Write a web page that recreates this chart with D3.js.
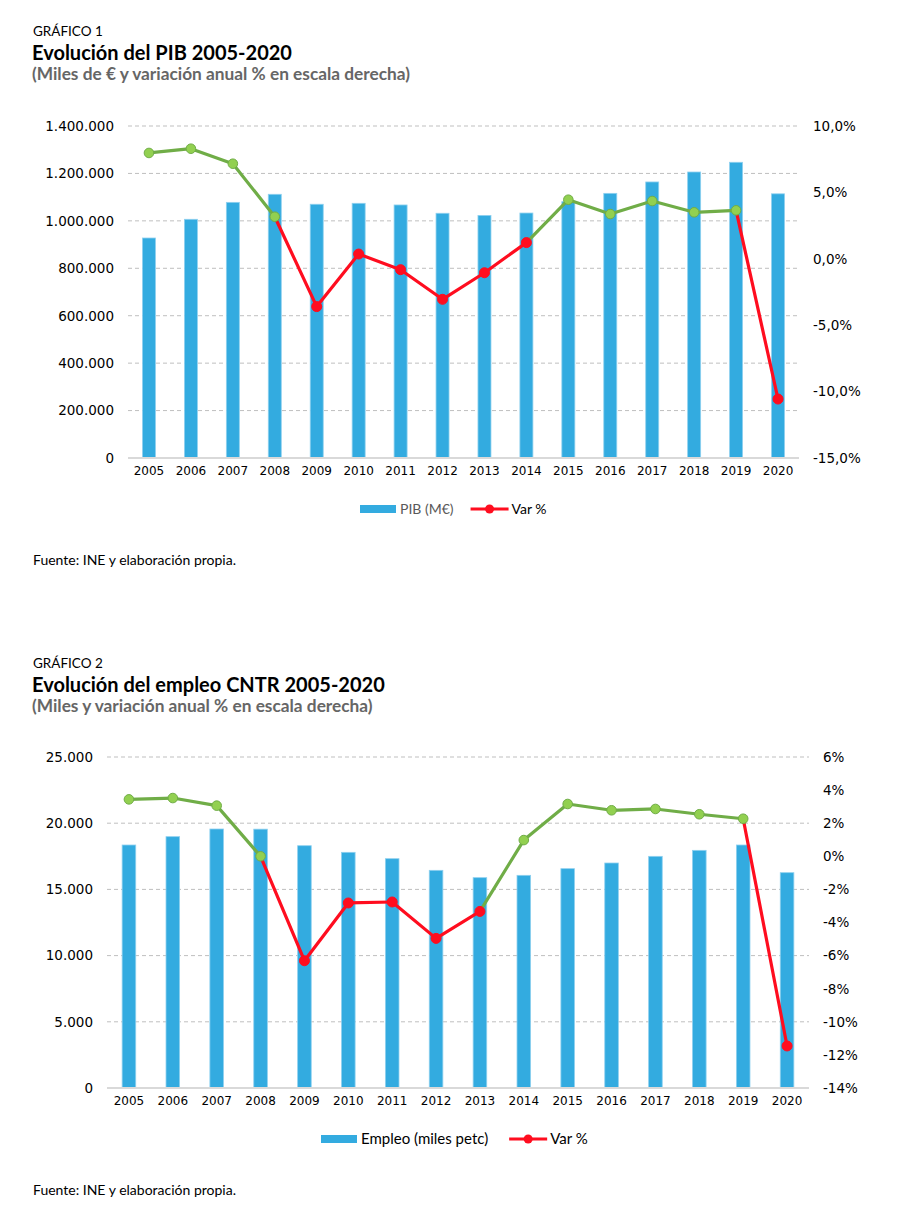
<!DOCTYPE html>
<html>
<head>
<meta charset="utf-8">
<script src="https://cdn.jsdelivr.net/npm/d3@7"></script>
<style>
  body { margin: 0; background: #fff; }
  .tick-label { font-family: "DejaVu Sans", sans-serif; fill: #000; }
  .caption { font-family: Lato, sans-serif; }
</style>
</head>
<body>
<div id="wrapper"></div>
<script>
// Years shared by both charts
const years = ["2005", "2006", "2007", "2008", "2009", "2010", "2011", "2012",
  "2013", "2014", "2015", "2016", "2017", "2018", "2019", "2020"];

// Gráfico 1: PIB (M€) and annual variation %
const pibValues = [927700, 1006600, 1078000, 1112000, 1070000, 1074000, 1067000, 1032000,
  1023000, 1033000, 1081000, 1116000, 1164000, 1206000, 1247000, 1114000];
const pibVar = [7.97, 8.29, 7.16, 3.17, -3.6, 0.36, -0.82, -3.05,
  -1.05, 1.22, 4.45, 3.37, 4.35, 3.5, 3.65, -10.56];
// phase of each point: "alza" drawn green, "baja" drawn red
const pibPhase = ["alza", "alza", "alza", "alza", "baja", "baja", "baja", "baja",
  "baja", "baja", "alza", "alza", "alza", "alza", "alza", "baja"];
const pibLeftTicks = [0, 200000, 400000, 600000, 800000, 1000000, 1200000, 1400000];
const pibRightTicks = [-15, -10, -5, 0, 5, 10];

// Gráfico 2: Empleo (miles petc) and annual variation %
const empleoValues = [18353, 18983, 19562, 19550, 18300, 17800, 17320, 16440,
  15886, 16063, 16566, 16994, 17497, 17950, 18353, 16263];
const empleoVar = [3.44, 3.52, 3.06, 0.0, -6.31, -2.82, -2.76, -4.96,
  -3.33, 0.98, 3.16, 2.78, 2.86, 2.54, 2.27, -11.46];
const empleoPhase = ["alza", "alza", "alza", "alza", "baja", "baja", "baja", "baja",
  "baja", "alza", "alza", "alza", "alza", "alza", "alza", "baja"];
const empleoLeftTicks = [0, 5000, 10000, 15000, 20000, 25000];
const empleoRightTicks = [-14, -12, -10, -8, -6, -4, -2, 0, 2, 4, 6];

const es = d3.formatLocale({ decimal: ",", thousands: ".", grouping: [3], currency: ["", "€"], minus: "-" });
const fmtThousands = es.format(",.0f");
const fmtPct1 = v => es.format(".1f")(v) + "%";
const fmtPct0 = v => es.format(".0f")(v) + "%";

const BAR = "#33abe0";
const phaseColor = { alza: "#70ad47", baja: "#ff0d1f" };
const markerFill = { alza: "#92d050", baja: "#ff0d1f" };

const svg = d3.select("#wrapper").append("svg")
  .attr("width", 920)
  .attr("height", 1218);

function drawChart(c) {
  const g = svg.append("g");

  // headings
  g.append("text").attr("class", "caption").attr("x", 33).attr("y", c.top + 36)
    .style("font-size", "13.5px").text(c.label);
  g.append("text").attr("class", "caption").attr("x", 32).attr("y", c.top + 60)
    .style("font-size", "20px").style("font-weight", "bold").text(c.title);
  g.append("text").attr("class", "caption").attr("x", 32).attr("y", c.top + 80)
    .style("font-size", "17.3px").style("font-weight", "bold").style("fill", "#666")
    .text(c.subtitle);

  const x = d3.scaleBand().domain(years).range([c.x0, c.x1]);
  const yL = d3.scaleLinear().domain(c.leftDomain).range([c.y0, c.y1]);
  const yR = d3.scaleLinear().domain(c.rightDomain).range([c.y0, c.y1]);
  const cx = d => x(d) + x.bandwidth() / 2;

  // gridlines
  g.selectAll(".grid").data(c.leftTicks.filter(t => t > 0)).enter().append("line")
    .attr("x1", c.x0).attr("x2", c.x1)
    .attr("y1", d => yL(d)).attr("y2", d => yL(d))
    .attr("stroke", "#bfbfbf").attr("stroke-width", 1).attr("stroke-dasharray", "4,3");

  // bars
  const bw = x.bandwidth() * 0.31;
  g.selectAll(".bar").data(c.values).enter().append("rect")
    .attr("x", (d, i) => cx(years[i]) - bw / 2)
    .attr("y", d => yL(d))
    .attr("width", bw)
    .attr("height", d => yL(0) - yL(d))
    .attr("fill", BAR)
    .attr("stroke", "#8fd0ef").attr("stroke-width", 0.8);

  // baseline
  g.append("line").attr("x1", c.x0).attr("x2", c.x1)
    .attr("y1", yL(0)).attr("y2", yL(0))
    .attr("stroke", "#d9d9d9").attr("stroke-width", 2);

  // left axis
  const left = g.append("g").attr("transform", `translate(${c.leftLabelX},0)`)
    .call(d3.axisLeft(yL).tickValues(c.leftTicks).tickFormat(fmtThousands).tickSize(0).tickPadding(0));
  left.select(".domain").remove();
  left.selectAll("text").attr("class", "tick-label").style("font-size", "13.5px");

  // right axis
  const right = g.append("g").attr("transform", `translate(${c.rightLabelX},0)`)
    .call(d3.axisRight(yR).tickValues(c.rightTicks).tickFormat(c.rightFormat).tickSize(0).tickPadding(0));
  right.select(".domain").remove();
  right.selectAll("text").attr("class", "tick-label").style("font-size", "13.5px");

  // x axis
  const bottom = g.append("g").attr("transform", `translate(0,${c.y0 + 8})`)
    .call(d3.axisBottom(x).tickSize(0).tickPadding(0));
  bottom.select(".domain").remove();
  bottom.selectAll("text").attr("class", "tick-label").style("font-size", "12px").attr("dy", "0.75em");

  // variation line, each segment coloured by its end point
  const line = d3.line().x(d => cx(d.year)).y(d => yR(d.v));
  const pts = c.varValues.map((v, i) => ({ year: years[i], v: v, phase: c.phases[i] }));
  for (let i = 1; i < pts.length; i++) {
    g.append("path").attr("d", line([pts[i - 1], pts[i]]))
      .attr("fill", "none").attr("stroke", phaseColor[pts[i].phase])
      .attr("stroke-width", 3.2).attr("stroke-linecap", "round");
  }
  g.selectAll(".pt").data(pts).enter().append("circle")
    .attr("cx", d => cx(d.year)).attr("cy", d => yR(d.v))
    .attr("r", d => d.phase === "alza" ? 4.8 : 5)
    .attr("fill", d => markerFill[d.phase])
    .attr("stroke", d => phaseColor[d.phase]).attr("stroke-width", 1);

  // legend
  const lg = g.append("g").attr("transform", `translate(${c.legendX},${c.legendY})`);
  lg.append("rect").attr("x", 0).attr("y", -4).attr("width", 36).attr("height", 8).attr("fill", BAR);
  const t1 = lg.append("text").attr("class", "caption").attr("x", 40).attr("y", 5)
    .style("font-size", c.legendFont).style("fill", c.barLegendColor).text(c.barLegend);
  const w = t1.node().getComputedTextLength();
  const lx = 40 + w + c.legendGap;
  lg.append("line").attr("x1", lx).attr("x2", lx + 38).attr("y1", 0).attr("y2", 0)
    .attr("stroke", phaseColor.baja).attr("stroke-width", 3);
  lg.append("circle").attr("cx", lx + 19).attr("cy", 0).attr("r", 4.5).attr("fill", phaseColor.baja);
  lg.append("text").attr("class", "caption").attr("x", lx + 41).attr("y", 5)
    .style("font-size", c.legendFont).text("Var %");

  // source
  g.append("text").attr("class", "caption").attr("x", 33).attr("y", c.sourceY)
    .style("font-size", "14px").text("Fuente: INE y elaboración propia.");
}

drawChart({
  top: 0,
  label: "GRÁFICO 1",
  title: "Evolución del PIB 2005-2020",
  subtitle: "(Miles de € y variación anual % en escala derecha)",
  values: pibValues, varValues: pibVar, phases: pibPhase,
  leftTicks: pibLeftTicks, rightTicks: pibRightTicks,
  leftDomain: [0, 1400000], rightDomain: [-15, 10], rightFormat: fmtPct1,
  x0: 128, x1: 799, y0: 458, y1: 126,
  leftLabelX: 114, rightLabelX: 813,
  legendX: 360, legendY: 509, barLegend: "PIB (M€)", barLegendColor: "#595959",
  legendFont: "14px", legendGap: 17,
  sourceY: 565
});

drawChart({
  top: 632,
  label: "GRÁFICO 2",
  title: "Evolución del empleo CNTR 2005-2020",
  subtitle: "(Miles y variación anual % en escala derecha)",
  values: empleoValues, varValues: empleoVar, phases: empleoPhase,
  leftTicks: empleoLeftTicks, rightTicks: empleoRightTicks,
  leftDomain: [0, 25000], rightDomain: [-14, 6], rightFormat: fmtPct0,
  x0: 107, x1: 809, y0: 1088, y1: 757,
  leftLabelX: 93, rightLabelX: 823,
  legendX: 321, legendY: 1139, barLegend: "Empleo (miles petc)", barLegendColor: "#000",
  legendFont: "15px", legendGap: 21,
  sourceY: 1195
});
</script>
</body>
</html>
